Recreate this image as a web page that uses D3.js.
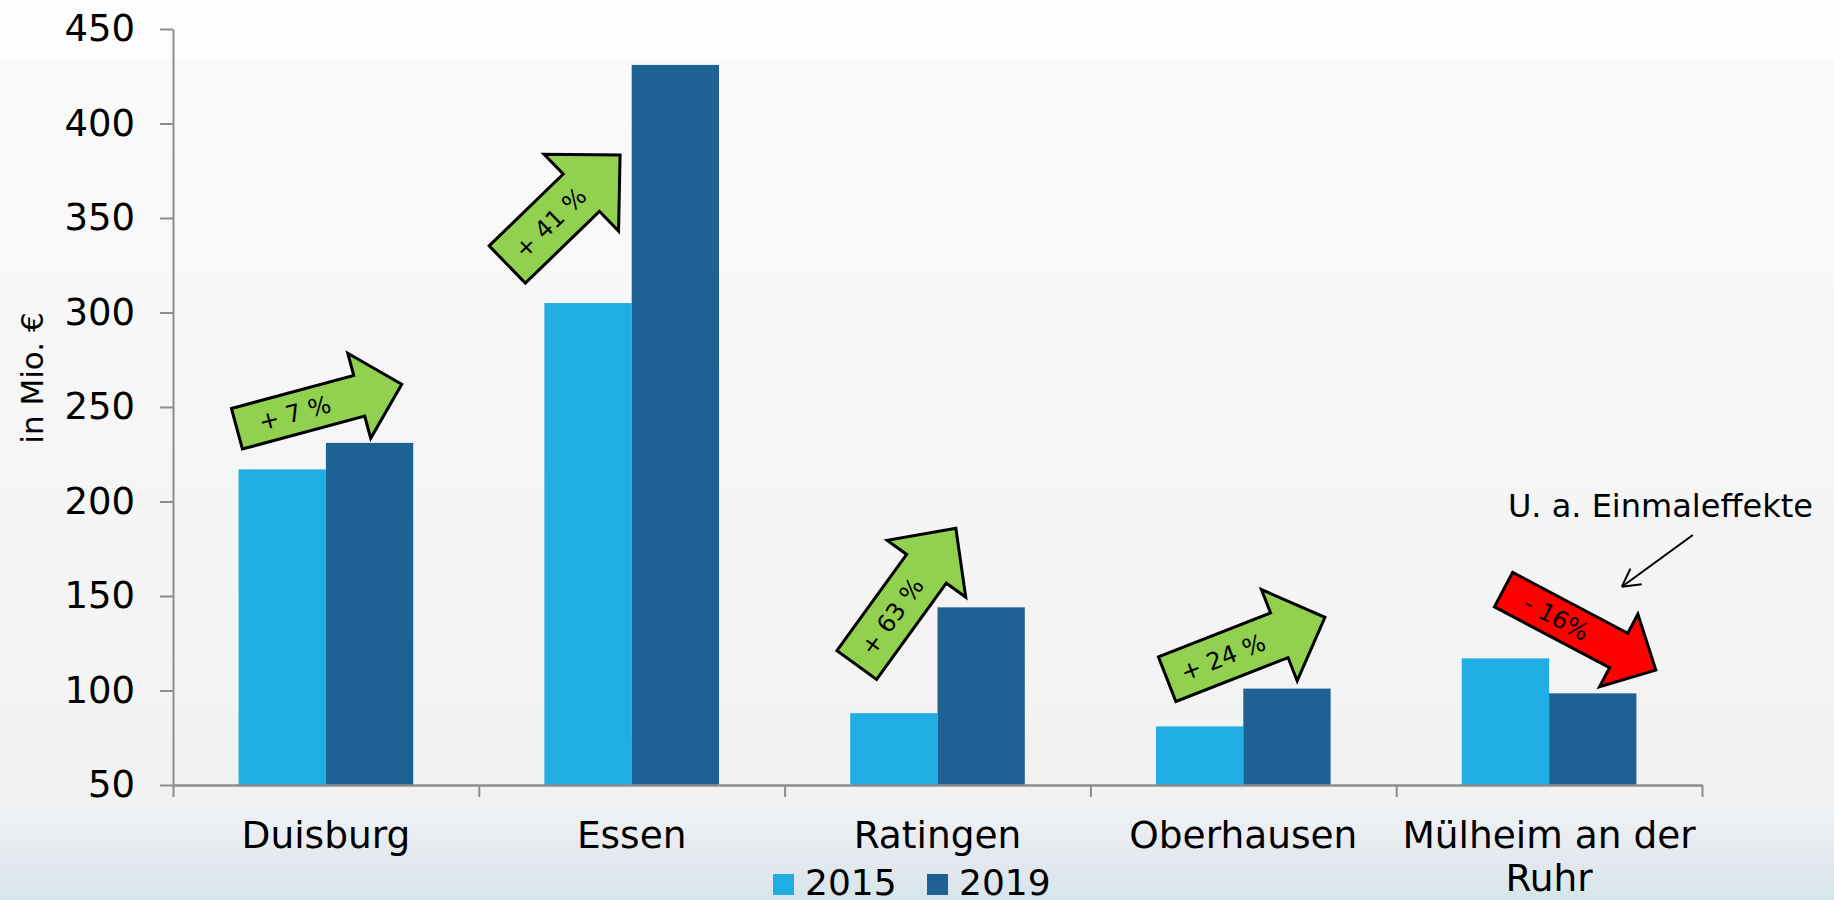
<!DOCTYPE html>
<html>
<head>
<meta charset="utf-8">
<script src="https://cdn.jsdelivr.net/npm/d3@7"></script>
<style>
  body { margin: 0; }
  svg { display: block; font-family: "DejaVu Sans", Verdana, sans-serif; }
</style>
</head>
<body>
<script>
// data
var cities = ["Duisburg", "Essen", "Ratingen", "Oberhausen", "Mülheim an der Ruhr"];
var years = ["2015", "2019"];
var values2015 = [217, 305, 88, 81, 117];
var values2019 = [231, 431, 144, 101, 98.5];
var changeLabels = ["+ 7 %", "+ 41 %", "+ 63 %", "+ 24 %", "- 16%"];
var yTicks = [50, 100, 150, 200, 250, 300, 350, 400, 450];
var note = "U. a. Einmaleffekte";

// arrow layout in axis units: [category units, value]
var arrowTail = [[0.209, 238.5], [1.093, 325.4], [2.236, 113.5], [3.251, 106.0], [4.351, 153.4]];
var arrowTip  = [[0.748, 262.0], [1.462, 383.3], [2.560, 185.8], [3.767, 138.7], [4.849, 110.8]];
var arrowSize = [[42, 88, 44], [52, 107, 54], [49, 97, 50], [48, 98, 49], [39, 82, 42]];

var width = 1834, height = 900;
var plotLeft = 173, plotRight = 1702, plotTop = 29, plotBottom = 785;
var colors = { "2015": "#20ade3", "2019": "#1e6294" };

var svg = d3.select("body")
    .append("svg")
    .attr("width", width)
    .attr("height", height);

// background like the slide
var defs = svg.append("defs");
var grad = defs.append("linearGradient")
    .attr("id", "bg")
    .attr("x1", 0).attr("y1", 0).attr("x2", 0).attr("y2", 1);
[[0, "#fdfdfd"], [0.066, "#fdfdfd"], [0.067, "#fafafa"], [0.88, "#f2f2f2"],
 [0.905, "#eef1f3"], [0.96, "#e3e8ef"], [1, "#d6e6eb"]].forEach(function(s) {
    grad.append("stop").attr("offset", s[0]).attr("stop-color", s[1]);
});
svg.append("rect")
    .attr("width", width)
    .attr("height", height)
    .attr("fill", "url(#bg)");

var x0 = d3.scaleBand().domain(cities).range([plotLeft, plotRight]);
var x1 = d3.scaleBand().domain(years).range([0, x0.bandwidth()]).paddingOuter(0.751);
var xu = d3.scaleLinear().domain([0, cities.length]).range([plotLeft, plotRight]);
var y = d3.scaleLinear().domain([50, 450]).range([plotBottom, plotTop]);

// bars
var rows = cities.map(function(c, i) {
    return { city: c, vals: [{ year: "2015", v: values2015[i] }, { year: "2019", v: values2019[i] }] };
});

var groups = svg.selectAll("g.city")
    .data(rows)
    .enter().append("g")
    .attr("class", "city")
    .attr("transform", function(d) { return "translate(" + x0(d.city) + ",0)"; });

groups.selectAll("rect")
    .data(function(d) { return d.vals; })
    .enter().append("rect")
    .attr("x", function(d) { return x1(d.year); })
    .attr("y", function(d) { return y(d.v); })
    .attr("width", x1.bandwidth())
    .attr("height", function(d) { return y(50) - y(d.v); })
    .attr("fill", function(d) { return colors[d.year]; });

// y axis
var yAxis = svg.append("g")
    .attr("transform", "translate(" + plotLeft + ",0)")
    .call(d3.axisLeft(y).tickValues(yTicks).tickSize(13).tickSizeOuter(0).tickPadding(25));
yAxis.select(".domain").attr("stroke", "#8c8c8c").attr("stroke-width", 2);
yAxis.selectAll(".tick line").attr("stroke", "#8c8c8c").attr("stroke-width", 2);
yAxis.selectAll(".tick text")
    .attr("font-size", 37)
    .attr("font-family", "DejaVu Sans")
    .attr("fill", "#000");

// x axis with ticks between categories
var xAxis = svg.append("g")
    .attr("transform", "translate(0," + plotBottom + ")")
    .call(d3.axisBottom(xu).tickValues(d3.range(0, cities.length + 1)).tickFormat("").tickSize(12).tickSizeOuter(0));
xAxis.select(".domain").attr("stroke", "#8c8c8c").attr("stroke-width", 2.5);
xAxis.selectAll(".tick line").attr("stroke", "#8c8c8c").attr("stroke-width", 2);

// category labels, wrapped
cities.forEach(function(c) {
    var lines = c.length > 14 ? ["Mülheim an der", "Ruhr"] : [c];
    var t = svg.append("text")
        .attr("x", x0(c) + x0.bandwidth() / 2)
        .attr("y", 848)
        .attr("text-anchor", "middle")
        .attr("font-size", 37.5)
        .attr("fill", "#000");
    lines.forEach(function(l, k) {
        t.append("tspan")
            .attr("x", x0(c) + x0.bandwidth() / 2)
            .attr("dy", k === 0 ? 0 : 43)
            .text(l);
    });
});

// y title
svg.append("text")
    .attr("transform", "translate(43,378) rotate(-90)")
    .attr("text-anchor", "middle")
    .attr("font-size", 31)
    .attr("fill", "#000")
    .text("in Mio. €");

// legend
var legendX = [773, 927];
years.forEach(function(yr, i) {
    svg.append("rect")
        .attr("x", legendX[i])
        .attr("y", 874)
        .attr("width", 21)
        .attr("height", 21)
        .attr("fill", colors[yr]);
    svg.append("text")
        .attr("x", legendX[i] + 32)
        .attr("y", 895)
        .attr("font-size", 36)
        .attr("fill", "#000")
        .text(yr);
});

// block arrows
changeLabels.forEach(function(lbl, i) {
    var ax = xu(arrowTail[i][0]), ay = y(arrowTail[i][1]);
    var bx = xu(arrowTip[i][0]), by = y(arrowTip[i][1]);
    var L = Math.hypot(bx - ax, by - ay);
    var ang = Math.atan2(by - ay, bx - ax) * 180 / Math.PI;
    var sw = arrowSize[i][0] / 2, hw = arrowSize[i][1] / 2, hl = arrowSize[i][2];
    var pts = [[0, -sw], [L - hl, -sw], [L - hl, -hw], [L, 0], [L - hl, hw], [L - hl, sw], [0, sw]];
    var g = svg.append("g")
        .attr("transform", "translate(" + ax + "," + ay + ") rotate(" + ang + ")");
    g.append("polygon")
        .attr("points", pts.map(function(p) { return p.join(","); }).join(" "))
        .attr("fill", values2019[i] >= values2015[i] ? "#92d050" : "#ff0000")
        .attr("stroke", "#000")
        .attr("stroke-width", 3)
        .attr("stroke-linejoin", "miter");
    g.append("text")
        .attr("x", 60)
        .attr("y", 0)
        .attr("dy", "0.35em")
        .attr("text-anchor", "middle")
        .attr("font-size", 24)
        .attr("fill", "#000")
        .text(lbl);
});

// note with thin arrow
svg.append("text")
    .attr("x", xu(4.864))
    .attr("y", y(191.8))
    .attr("text-anchor", "middle")
    .attr("font-size", 32)
    .attr("fill", "#000")
    .text(note);

var nx0 = xu(4.970), ny0 = y(182.3), nx1 = xu(4.738), ny1 = y(154.9);
var na = Math.atan2(ny1 - ny0, nx1 - nx0);
svg.append("line")
    .attr("x1", nx0).attr("y1", ny0)
    .attr("x2", nx1).attr("y2", ny1)
    .attr("stroke", "#000").attr("stroke-width", 2);
[-0.5, 0.5].forEach(function(d) {
    svg.append("line")
        .attr("x1", nx1).attr("y1", ny1)
        .attr("x2", nx1 - 20 * Math.cos(na + d))
        .attr("y2", ny1 - 20 * Math.sin(na + d))
        .attr("stroke", "#000").attr("stroke-width", 2);
});
</script>
</body>
</html>
